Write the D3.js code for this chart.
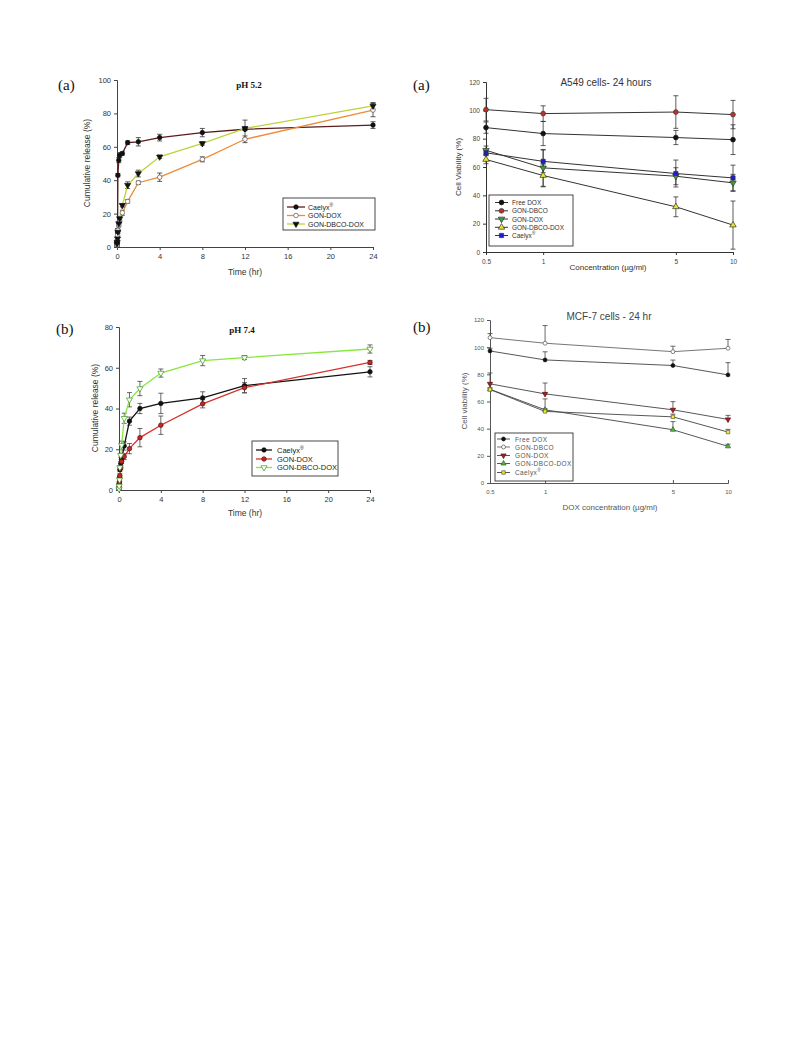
<!DOCTYPE html>
<html><head><meta charset="utf-8">
<script src="https://cdn.jsdelivr.net/npm/d3@7"></script>
<style>body{margin:0;background:#fff}svg{display:block}</style>
</head><body>
<svg id="c" width="793" height="1057"></svg>
<script>
// ---------- DATA ----------
const releaseTimes = [0, 0.0167, 0.05, 0.083, 0.167, 0.25, 0.5, 1, 2, 4, 8, 12, 24];
const timeTicks = [0, 4, 8, 12, 16, 20, 24];

// pH 5.2
const caelyx52 = [1, 2, 9, 43, 52, 55, 56, 62.5, 63, 65.5, 68.5, 70.5, 73];
const caelyx52Err = [1, 1, 2, 1, 1.5, 1.5, 1, 1, 2.5, 2, 2.5, 5.5, 2];
const gonDox52 = [1, 3, 7, 10, 13, 15.5, 20.5, 27.3, 38.5, 41.8, 52.5, 64.5, 82];
const gonDox52Err = [1, 1, 1, 1, 1, 1, 1.5, 1, 1, 2.5, 1.5, 2, 4];
const gonDbcoDox52 = [2, 3, 5, 9, 14, 17, 25, 37, 44, 54, 62, 71, 84.5];
const gonDbcoDox52Err = [1, 1, 1, 1, 1, 1, 1, 2, 2, 1, 1, 1, 2];

// pH 7.4
const caelyx74 = [1, 3, 6, 10, 13, 15, 21.6, 33.8, 40, 42.5, 45.2, 51.2, 58];
const caelyx74Err = [0.5, 1, 1, 1, 1, 1, 2, 2, 2.5, 5, 3, 3.5, 2.5];
const gonDox74 = [1, 2.5, 4, 7, 11, 14, 16.4, 20.3, 25.7, 31.8, 42.3, 50.2, 62.6];
const gonDox74Err = [0.5, 1, 1, 1, 1, 1, 1.5, 2.5, 4.5, 4.5, 2, 2.5, 1];
const gonDbcoDox74 = [0.5, 2, 5, 11, 17, 22, 35.2, 44.3, 49.8, 57.4, 63.5, 65, 69.2];
const gonDbcoDox74Err = [0.5, 1, 1, 1, 1, 2, 2.5, 3.5, 3.5, 2, 2.5, 1, 2];

// Cell viability
const concentrations = [0.5, 1, 5, 10];
const viabilityTicks = [0, 20, 40, 60, 80, 100, 120];

// A549
const freeDoxA549 = [87.8, 83.6, 80.8, 79.3];
const freeDoxA549Err = [4, 8.5, 5, 10.5];
const gonDbcoA549 = [100.5, 97.7, 98.8, 97];
const gonDbcoA549Err = [8, 5.5, 11.5, 10];
const gonDoxA549 = [71.8, 59.4, 53.5, 48.8];
const gonDoxA549Err = [3, 13, 6, 6];
const gonDbcoDoxA549 = [65.3, 54, 31.9, 19];
const gonDbcoDoxA549Err = [3, 8, 7, 17];
const caelyxA549 = [70, 64, 55.4, 52.3];
const caelyxA549Err = [2, 8, 9.5, 9];

// MCF-7
const freeDoxMCF = [97.2, 90.6, 86.5, 79.6];
const freeDoxMCFErr = [2, 6, 4, 9];
const gonDbcoMCF = [107, 102.9, 96.7, 99.2];
const gonDbcoMCFErr = [3, 13, 4, 6.5];
const gonDoxMCF = [73, 65.6, 53.9, 46.8];
const gonDoxMCFErr = [8, 8, 6, 3];
const gonDbcoDoxMCF = [69, 53.9, 39.2, 27];
const gonDbcoDoxMCFErr = [1, 8, 6, 1.5];
const caelyxMCF = [68.8, 52.7, 48.7, 37.5];
const caelyxMCFErr = [1, 2, 2, 2];

// ---------- DRAWING ----------
const svg = d3.select("#c");
const SANS = "'Liberation Sans', Arial, sans-serif";
const SERIF = "'Liberation Serif', 'Times New Roman', serif";

function symbolPath(type, size) {
  const map = {circle: d3.symbolCircle, square: d3.symbolSquare, down: d3.symbolTriangle, up: d3.symbolTriangle};
  return d3.symbol().type(map[type]).size(size)();
}
function drawMarker(g, x, y, s, size) {
  g.append("path").attr("d", symbolPath(s.shape, size))
    .attr("transform", `translate(${x},${y})` + (s.shape === "down" ? " rotate(180)" : ""))
    .attr("fill", s.fill).attr("stroke", s.mstroke).attr("stroke-width", 0.7);
}

function panel(cfg) {
  const g = svg.append("g");
  const x = cfg.x, y = cfg.y;
  // axes
  const yAx = d3.axisLeft(y).tickValues(cfg.yTicks).tickSize(3).tickPadding(3);
  const xAx = (cfg.xInside ? d3.axisTop(x) : d3.axisBottom(x)).tickValues(cfg.xTicks).tickSize(3).tickPadding(cfg.xInside ? -13 : 4)
    .tickFormat(cfg.xFormat || d3.format("d"));
  const ya = g.append("g").attr("transform", `translate(${x.range()[0]},0)`).call(yAx);
  const xa = g.append("g").attr("transform", `translate(0,${y.range()[0]})`).call(xAx);
  [ya, xa].forEach(a => {
    a.select(".domain").attr("stroke", cfg.axisColor).attr("stroke-width", 1);
    a.selectAll(".tick line").attr("stroke", cfg.axisColor);
    a.selectAll("text").attr("font-family", SANS).attr("font-size", cfg.tickFont).attr("fill", cfg.tickColor);
  });
  if (cfg.xInside) xa.selectAll(".tick text").attr("dy", "0.71em").attr("y", 7);
  // axis titles
  g.append("text").attr("x", cfg.xLabelPos[0]).attr("y", cfg.xLabelPos[1]).attr("text-anchor", "middle")
    .attr("font-family", SANS).attr("font-size", cfg.labelFont).attr("fill", cfg.labelColor).text(cfg.xLabel);
  g.append("text").attr("transform", `translate(${cfg.yLabelPos[0]},${cfg.yLabelPos[1]}) rotate(-90)`).attr("text-anchor", "middle")
    .attr("font-family", SANS).attr("font-size", cfg.labelFont).attr("fill", cfg.labelColor).text(cfg.yLabel);
  // panel letter and title
  g.append("text").attr("x", cfg.letterPos[0]).attr("y", cfg.letterPos[1]).attr("font-family", SERIF)
    .attr("font-size", 15).attr("fill", "#111").text(cfg.letter);
  g.append("text").attr("x", cfg.titlePos[0]).attr("y", cfg.titlePos[1]).attr("text-anchor", "middle")
    .attr("font-family", cfg.titleFamily).attr("font-weight", cfg.titleWeight).attr("font-size", cfg.titleSize)
    .attr("fill", cfg.titleColor).text(cfg.title);
  // series
  const line = d3.line().x(d => x(d[0])).y(d => y(d[1]));
  cfg.series.forEach(s => {
    const pts = cfg.xs.map((t, i) => [t, s.values[i], s.err[i]]);
    // error bars
    const eg = g.append("g").attr("stroke", cfg.errColor).attr("stroke-width", 0.8);
    pts.forEach(p => {
      const top = y(p[1] + p[2]), bot = cfg.upperOnly ? y(p[1]) : y(p[1] - p[2]);
      const cx = x(p[0]);
      eg.append("line").attr("x1", cx).attr("x2", cx).attr("y1", top).attr("y2", bot);
      eg.append("line").attr("x1", cx - cfg.cap).attr("x2", cx + cfg.cap).attr("y1", top).attr("y2", top);
      if (!cfg.upperOnly) eg.append("line").attr("x1", cx - cfg.cap).attr("x2", cx + cfg.cap).attr("y1", bot).attr("y2", bot);
    });
    g.append("path").datum(pts).attr("d", line).attr("fill", "none").attr("stroke", s.color).attr("stroke-width", cfg.lineWidth);
  });
  cfg.series.forEach(s => {
    cfg.xs.forEach((t, i) => drawMarker(g, x(t), y(s.values[i]), s, cfg.markerSize));
  });
  // legend
  const L = cfg.legend;
  g.append("rect").attr("x", L.box[0]).attr("y", L.box[1]).attr("width", L.box[2]).attr("height", L.box[3])
    .attr("fill", "#fff").attr("stroke", "#333").attr("stroke-width", 0.9);
  cfg.series.forEach((s, i) => {
    const yy = L.ys[i];
    g.append("line").attr("x1", L.lineX[0]).attr("x2", L.lineX[1]).attr("y1", yy).attr("y2", yy)
      .attr("stroke", s.color).attr("stroke-width", cfg.lineWidth);
    drawMarker(g, (L.lineX[0] + L.lineX[1]) / 2, yy, s, cfg.markerSize);
    const t = g.append("text").attr("x", L.textX).attr("y", yy + 2.5).attr("font-family", SANS)
      .attr("font-size", L.font).attr("fill", L.color).attr("letter-spacing", L.spacing || 0);
    if (s.name === "Caelyx") {
      t.append("tspan").text("Caelyx");
      t.append("tspan").attr("font-size", L.font * 0.7).attr("dy", -3).text("®");
    } else t.text(s.name);
  });
}

// Panel (a) pH 5.2
panel({
  x: d3.scaleLinear().domain([0, 24]).range([117, 373]),
  y: d3.scaleLinear().domain([0, 100]).range([247, 80]),
  xs: releaseTimes, xTicks: timeTicks, yTicks: [0, 20, 40, 60, 80, 100],
  axisColor: "#444", tickFont: 7.5, tickColor: "#333", labelFont: 8.5, labelColor: "#333",
  xLabel: "Time (hr)", xLabelPos: [245, 275], yLabel: "Cumulative release (%)", yLabelPos: [90, 163],
  letter: "(a)", letterPos: [58, 90], title: "pH 5.2", titlePos: [249, 88],
  titleFamily: SERIF, titleWeight: "bold", titleSize: 9, titleColor: "#111",
  errColor: "#333", cap: 2.5, lineWidth: 1.3, markerSize: 16,
  series: [
    {name: "Caelyx", values: caelyx52, err: caelyx52Err, color: "#5a1c1c", shape: "circle", fill: "#111", mstroke: "#111"},
    {name: "GON-DOX", values: gonDox52, err: gonDox52Err, color: "#f08a35", shape: "circle", fill: "#fff", mstroke: "#555"},
    {name: "GON-DBCO-DOX", values: gonDbcoDox52, err: gonDbcoDox52Err, color: "#bdd23a", shape: "down", fill: "#111", mstroke: "#111"}
  ],
  legend: {box: [283, 198, 92, 32], ys: [207, 215.5, 224], lineX: [287, 305], textX: 308, font: 7, color: "#222"}
});

// Panel (b) pH 7.4
panel({
  x: d3.scaleLinear().domain([0, 24]).range([119, 370]),
  y: d3.scaleLinear().domain([0, 80]).range([490, 327]),
  xs: releaseTimes, xTicks: timeTicks, yTicks: [0, 20, 40, 60, 80],
  axisColor: "#444", tickFont: 7.5, tickColor: "#333", labelFont: 8.5, labelColor: "#333",
  xLabel: "Time (hr)", xLabelPos: [245, 516], yLabel: "Cumulative release (%)", yLabelPos: [98, 408],
  letter: "(b)", letterPos: [56, 334], title: "pH 7.4", titlePos: [242, 333],
  titleFamily: SERIF, titleWeight: "bold", titleSize: 9, titleColor: "#111",
  errColor: "#444", cap: 2.5, lineWidth: 1.3, markerSize: 16,
  series: [
    {name: "Caelyx", values: caelyx74, err: caelyx74Err, color: "#111", shape: "circle", fill: "#111", mstroke: "#111"},
    {name: "GON-DOX", values: gonDox74, err: gonDox74Err, color: "#d8302c", shape: "circle", fill: "#c52525", mstroke: "#5a1010"},
    {name: "GON-DBCO-DOX", values: gonDbcoDox74, err: gonDbcoDox74Err, color: "#86e83c", shape: "down", fill: "#fff", mstroke: "#3c9a20"}
  ],
  legend: {box: [252, 441, 86, 35], ys: [450, 459, 467.5], lineX: [256, 272], textX: 277, font: 7.5, color: "#222"}
});

// Panel (a) A549
panel({
  x: d3.scaleLog().domain([0.5, 10]).range([486, 733]),
  y: d3.scaleLinear().domain([0, 120]).range([252, 82]),
  xs: concentrations, xTicks: concentrations, yTicks: viabilityTicks, xFormat: d => String(d),
  axisColor: "#333", tickFont: 6.5, tickColor: "#444", labelFont: 8, labelColor: "#333",
  xLabel: "Concentration (µg/ml)", xLabelPos: [608, 270], yLabel: "Cell Viability (%)", yLabelPos: [461, 167],
  letter: "(a)", letterPos: [413, 90], title: "A549 cells- 24 hours", titlePos: [606, 86],
  titleFamily: SANS, titleWeight: "normal", titleSize: 10, titleColor: "#333",
  errColor: "#333", cap: 2.5, lineWidth: 1, markerSize: 18,
  series: [
    {name: "Free DOX", values: freeDoxA549, err: freeDoxA549Err, color: "#333", shape: "circle", fill: "#111", mstroke: "#111"},
    {name: "GON-DBCO", values: gonDbcoA549, err: gonDbcoA549Err, color: "#333", shape: "circle", fill: "#c0302a", mstroke: "#333"},
    {name: "GON-DOX", values: gonDoxA549, err: gonDoxA549Err, color: "#333", shape: "down", fill: "#3f9c3a", mstroke: "#333"},
    {name: "GON-DBCO-DOX", values: gonDbcoDoxA549, err: gonDbcoDoxA549Err, color: "#333", shape: "up", fill: "#e6e62a", mstroke: "#333"},
    {name: "Caelyx", values: caelyxA549, err: caelyxA549Err, color: "#333", shape: "square", fill: "#1c1cd8", mstroke: "#333"}
  ],
  legend: {box: [489, 195, 84, 51], ys: [202.5, 210.8, 219, 227.3, 235.5], lineX: [495, 508], textX: 512, font: 6.5, color: "#333"}
});

// Panel (b) MCF-7
panel({
  x: d3.scaleLog().domain([0.5, 10]).range([490, 728]),
  y: d3.scaleLinear().domain([0, 120]).range([483, 320]),
  xs: concentrations, xTicks: concentrations, yTicks: viabilityTicks, xFormat: d => String(d), xInside: true,
  axisColor: "#555", tickFont: 6, tickColor: "#555", labelFont: 8, labelColor: "#555",
  xLabel: "DOX concentration (µg/ml)", xLabelPos: [610, 510], yLabel: "Cell viability (%)", yLabelPos: [467, 401],
  letter: "(b)", letterPos: [413, 332], title: "MCF-7 cells - 24 hr", titlePos: [609, 320],
  titleFamily: SANS, titleWeight: "normal", titleSize: 10, titleColor: "#444",
  errColor: "#444", cap: 2.5, lineWidth: 0.9, markerSize: 12, upperOnly: true,
  series: [
    {name: "Free DOX", values: freeDoxMCF, err: freeDoxMCFErr, color: "#444", shape: "circle", fill: "#111", mstroke: "#111"},
    {name: "GON-DBCO", values: gonDbcoMCF, err: gonDbcoMCFErr, color: "#666", shape: "circle", fill: "#fff", mstroke: "#555"},
    {name: "GON-DOX", values: gonDoxMCF, err: gonDoxMCFErr, color: "#444", shape: "down", fill: "#a82020", mstroke: "#5a1010"},
    {name: "GON-DBCO-DOX", values: gonDbcoDoxMCF, err: gonDbcoDoxMCFErr, color: "#444", shape: "up", fill: "#55b04a", mstroke: "#2c6a2a"},
    {name: "Caelyx", values: caelyxMCF, err: caelyxMCFErr, color: "#444", shape: "square", fill: "#f2f020", mstroke: "#555"}
  ],
  legend: {box: [495, 433, 78, 48], ys: [439, 447, 455.5, 463.5, 472.5], lineX: [497, 510], textX: 515, font: 6.5, color: "#555", spacing: 0.4}
});
</script>
</body></html>
